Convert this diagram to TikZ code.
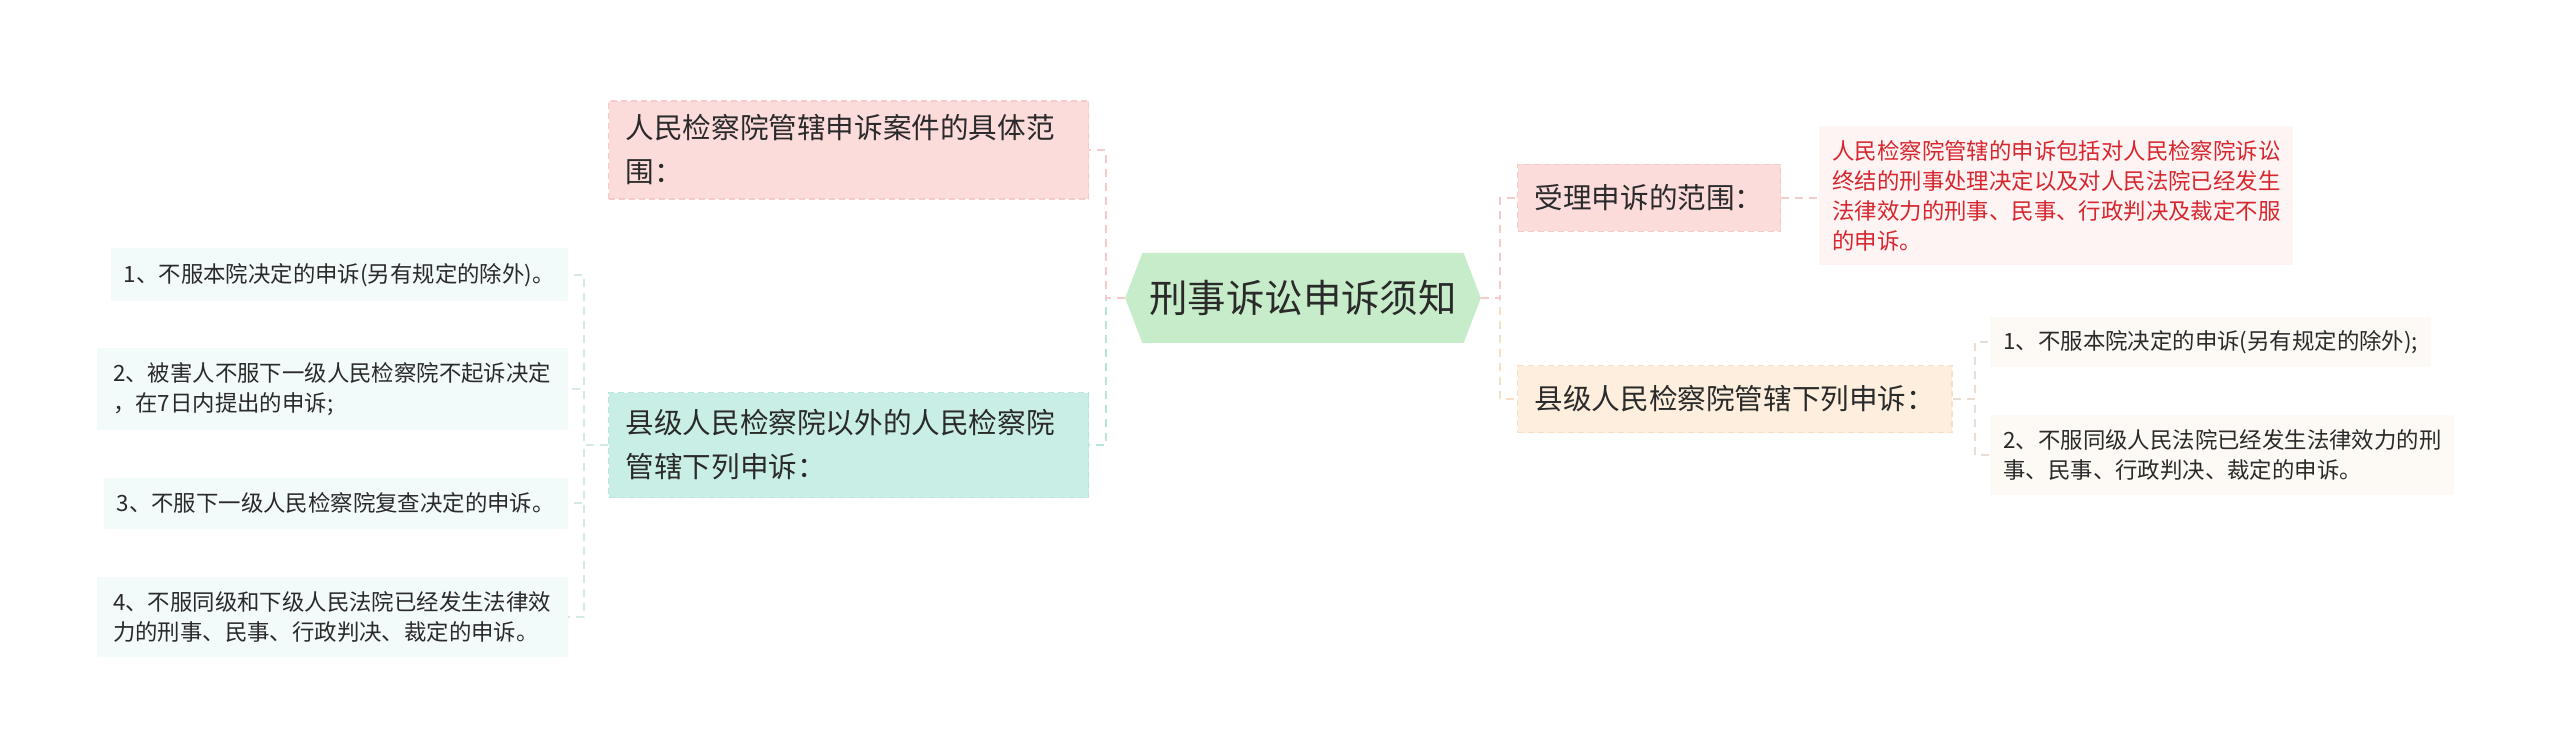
\documentclass[tikz,border=0pt]{standalone}
\usepackage{fontspec}
\setmainfont{Noto Sans CJK SC}
\usepackage{xcolor}
\usepackage{tikz}
\usetikzlibrary{positioning,shapes.symbols}

\definecolor{rootfill}{HTML}{C6ECC9}
\definecolor{pinkfill}{HTML}{FCDBDB}
\definecolor{pinkline}{HTML}{F6CACA}
\definecolor{tealfill}{HTML}{C9EEE6}
\definecolor{tealline}{HTML}{B8E5DB}
\definecolor{peachfill}{HTML}{FDEEDE}
\definecolor{peachline}{HTML}{F8DEC4}
\definecolor{cyanleaf}{HTML}{F3FAFA}
\definecolor{creamleaf}{HTML}{FDFAF5}
\definecolor{rosleaf}{HTML}{FEF4F4}
\definecolor{greylink}{HTML}{D3EAE5}
\definecolor{creamlink}{HTML}{E8DED4}
\definecolor{notered}{HTML}{D7262E}
\definecolor{inktext}{HTML}{2A2A2A}

\begin{document}
\begin{tikzpicture}[
  x=0.5pt, y=-0.5pt,
  text=inktext,
  root/.style={shape=signal, signal to=east and west, signal pointer angle=138, fill=rootfill, minimum height=45pt, inner xsep=3.5pt, font=\fontsize{19.2}{23}\selectfont},
  topic/.style={dash pattern=on 3pt off 2pt, line width=.7pt, align=left, inner xsep=8.5pt, font=\fontsize{14.3}{22}\selectfont},
  pinktopic/.style={topic, fill=pinkfill, draw=pinkline},
  tealtopic/.style={topic, fill=tealfill, draw=tealline},
  peachtopic/.style={topic, fill=peachfill, draw=peachline},
  leaf/.style={align=left, inner xsep=6.5pt, inner ysep=5pt, font=\fontsize{11.2}{15}\selectfont},
  link/.style={dash pattern=on 4pt off 3pt, line width=1pt}
]
\useasboundingbox (0,0) rectangle (2560,754);
\fill[white] (0,0) rectangle (2560,754);

\node[root] (root) at (1303,298) {刑事诉讼申诉须知};

\node[pinktopic, anchor=west, text width=223pt, minimum height=49pt] (scope) at (608,150) {人民检察院管辖申诉案件的具体范\\围：};
\node[tealtopic, anchor=west, text width=223pt, minimum height=52.5pt] (other) at (608,445) {县级人民检察院以外的人民检察院\\管辖下列申诉：};

\node[leaf, fill=cyanleaf, anchor=east, minimum width=228pt, minimum height=26.5pt] (self) at (568,275) {1、不服本院决定的申诉(另有规定的除外)。};
\node[leaf, fill=cyanleaf, anchor=east, minimum width=235.5pt, minimum height=41pt] (victim) at (568,389) {2、被害人不服下一级人民检察院不起诉决定\\，在7日内提出的申诉;};
\node[leaf, fill=cyanleaf, anchor=east, minimum width=231.5pt, minimum height=25.5pt] (review) at (568,503) {3、不服下一级人民检察院复查决定的申诉。};
\node[leaf, fill=cyanleaf, anchor=east, minimum width=235.5pt, minimum height=40pt] (court) at (568,617) {4、不服同级和下级人民法院已经发生法律效\\力的刑事、民事、行政判决、裁定的申诉。};

\node[pinktopic, anchor=west, minimum height=33.5pt] (accept) at (1517,198) {受理申诉的范围：};
\node[leaf, fill=rosleaf, text=notered, anchor=west, minimum height=69.5pt] (acceptnote) at (1819,196) {人民检察院管辖的申诉包括对人民检察院诉讼\\终结的刑事处理决定以及对人民法院已经发生\\法律效力的刑事、民事、行政判决及裁定不服\\的申诉。};

\node[peachtopic, anchor=west, minimum height=33.5pt] (county) at (1517,399) {县级人民检察院管辖下列申诉：};
\node[leaf, fill=creamleaf, anchor=west, minimum height=24.5pt] (countyone) at (1990,342) {1、不服本院决定的申诉(另有规定的除外);};
\node[leaf, fill=creamleaf, anchor=west, minimum height=40pt] (countytwo) at (1990,455) {2、不服同级人民法院已经发生法律效力的刑\\事、民事、行政判决、裁定的申诉。};

\draw[link, draw=tealline] (root.west) -- ++(-19,0) |- (other.east);
\draw[link, draw=pinkline] (root.west) -- ++(-19,0) |- (scope.east);
\foreach \n in {self,victim,review,court}
  \draw[link, draw=greylink] (other.west) -- ++(-24,0) |- (\n.east);

\draw[link, draw=peachline] (root.east) -- ++(19,0) |- (county.west);
\draw[link, draw=pinkline] (root.east) -- ++(19,0) |- (accept.west);
\draw[link, draw=pinkline] (accept.east) -- (acceptnote.west |- accept.east);
\foreach \n in {countyone,countytwo}
  \draw[link, draw=creamlink] (county.east) -- ++(22,0) |- (\n.west);
\end{tikzpicture}
\end{document}
